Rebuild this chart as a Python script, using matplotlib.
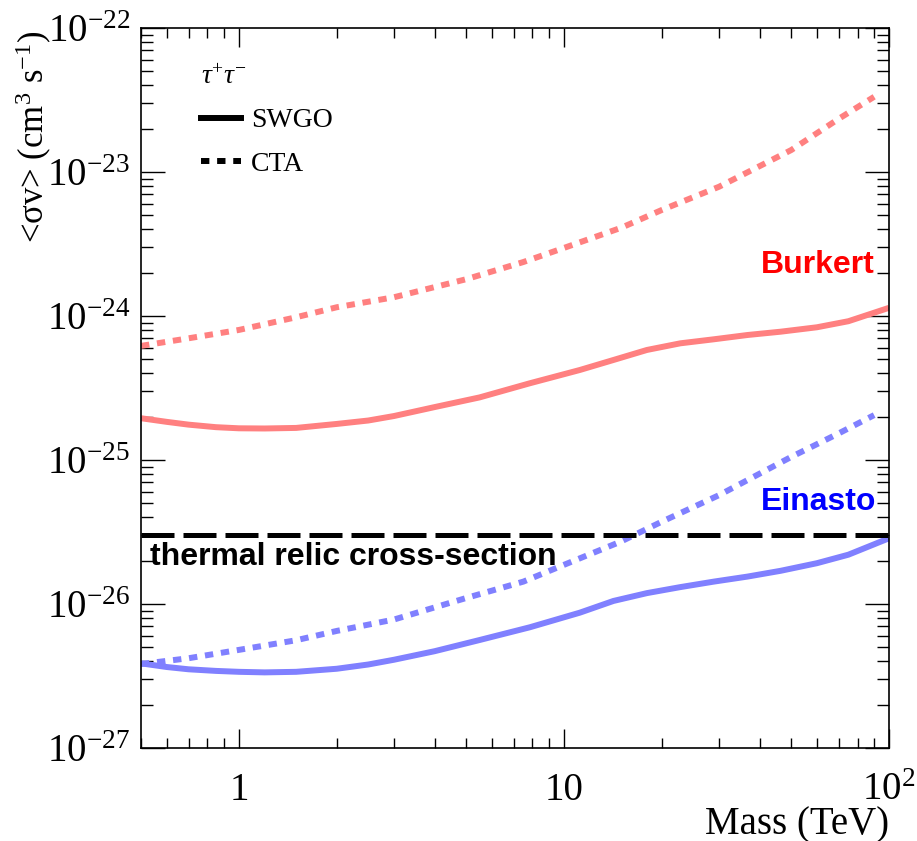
import numpy as np
import matplotlib
matplotlib.use('Agg')
import matplotlib.pyplot as plt
from matplotlib.lines import Line2D
from matplotlib.ticker import FuncFormatter, LogLocator, NullFormatter

# tau+ tau- channel, upper limits
mass_swgo = [0.5, 0.6, 0.7, 0.85, 1.0, 1.2, 1.5, 2.0, 2.5, 3.0, 4.0, 5.5, 7.85, 11.2,
             14.2, 18, 22.8, 28.9, 36.7, 46.4, 60, 75, 100]
burkert_swgo = [1.95e-25, 1.84e-25, 1.76e-25, 1.69e-25, 1.66e-25, 1.655e-25, 1.67e-25, 1.78e-25,
                1.88e-25, 2.02e-25, 2.33e-25, 2.72e-25, 3.41e-25, 4.22e-25, 4.95e-25, 5.81e-25,
                6.46e-25, 6.89e-25, 7.38e-25, 7.78e-25, 8.35e-25, 9.2e-25, 1.14e-24]
einasto_swgo = [3.87e-27, 3.65e-27, 3.52e-27, 3.43e-27, 3.38e-27, 3.35e-27, 3.38e-27, 3.55e-27,
                3.8e-27, 4.1e-27, 4.7e-27, 5.62e-27, 6.89e-27, 8.71e-27, 1.05e-26, 1.19e-26,
                1.31e-26, 1.43e-26, 1.55e-26, 1.70e-26, 1.92e-26, 2.2e-26, 2.86e-26]

mass_cta = [0.5, 0.7, 1.0, 1.5, 2.0, 3.0, 5.0, 7.5, 10, 15, 20, 30, 50, 70, 90]
burkert_cta = [6.2e-25, 7.0e-25, 8.0e-25, 9.8e-25, 1.15e-24, 1.35e-24, 1.8e-24, 2.37e-24,
               2.97e-24, 4.1e-24, 5.45e-24, 7.9e-24, 1.42e-23, 2.34e-23, 3.33e-23]
einasto_cta = [3.83e-27, 4.2e-27, 4.8e-27, 5.6e-27, 6.5e-27, 7.8e-27, 1.1e-26, 1.43e-26,
               1.87e-26, 2.72e-26, 3.73e-26, 5.7e-26, 1.05e-25, 1.53e-25, 2.05e-25]

thermal_relic = 3e-26

plt.rcParams['font.family'] = 'Liberation Serif'
plt.rcParams['mathtext.fontset'] = 'custom'
plt.rcParams['mathtext.rm'] = 'Liberation Serif'
plt.rcParams['mathtext.it'] = 'Liberation Serif:italic'
plt.rcParams['mathtext.bf'] = 'Liberation Serif:bold'

fig = plt.figure(figsize=(9.17, 8.41), dpi=100)
ax = fig.add_axes([0.1538, 0.1106, 0.8157, 0.8561])

red = '#ff8080'
blue = '#8080ff'
lw = 4.3
dots = (0, (1.4, 1.3))

ax.plot(mass_swgo, burkert_swgo, color=red, lw=lw, solid_capstyle='butt')
ax.plot(mass_cta, burkert_cta, color=red, lw=lw, linestyle=dots)
ax.plot(mass_swgo, einasto_swgo, color=blue, lw=lw, solid_capstyle='butt')
ax.plot(mass_cta, einasto_cta, color=blue, lw=lw, linestyle=dots)
ax.axhline(thermal_relic, color='black', lw=3.6, linestyle=(0, (6.6, 1.8)))

ax.set_xscale('log')
ax.set_yscale('log')
ax.set_xlim(0.5, 100)
ax.set_ylim(1e-27, 1e-22)

# ticks, ROOT style: inside, on all four sides
ax.set_xticks([1, 10, 100], labels=['1', '10', r'$10^{2}$'])
ax.xaxis.set_minor_locator(LogLocator(base=10, subs=np.arange(2, 10)))
ax.xaxis.set_minor_formatter(NullFormatter())
ax.yaxis.set_major_locator(LogLocator(base=10, numticks=10))
ax.yaxis.set_minor_locator(LogLocator(base=10, subs=np.arange(2, 10), numticks=20))
ax.yaxis.set_major_formatter(FuncFormatter(lambda v, _: r'$10^{%d}$' % round(np.log10(v))))
ax.yaxis.set_minor_formatter(NullFormatter())

ax.tick_params(axis='both', which='both', direction='in', top=True, right=True, width=1)
ax.tick_params(axis='x', which='major', length=13.7, labelsize=28, pad=17)
ax.tick_params(axis='x', which='minor', length=7.2)
ax.tick_params(axis='y', which='major', length=17.3, labelsize=28, pad=8)
ax.tick_params(axis='y', which='minor', length=8.6)
for s in ax.spines.values():
    s.set_linewidth(1.2)

ax.set_xlabel('Mass (TeV)', fontsize=28, ha='right', va='baseline')
ax.xaxis.set_label_coords(1.0, -0.1205)
ax.set_ylabel('<σv> (cm$^{3}$ s$^{-1}$)', fontsize=25, ha='right', va='center')
ax.yaxis.set_label_coords(-0.1430, 0.997)

bold_sans = dict(family='Liberation Sans', fontweight='bold', fontsize=23, transform=ax.transAxes)
ax.text(0.981, 0.660, 'Burkert', color='red', ha='right', va='baseline', **bold_sans)
ax.text(0.983, 0.331, 'Einasto', color='blue', ha='right', va='baseline', **bold_sans)
ax.text(0.012, 0.254, 'thermal relic cross-section', color='black', ha='left', va='baseline', **bold_sans)

handles = [Line2D([], [], color='black', lw=lw),
           Line2D([], [], color='black', lw=lw, linestyle=dots)]
ax.legend(handles, ['SWGO', 'CTA'], title=r'$\tau^{+}\tau^{-}$', loc='upper left',
          bbox_to_anchor=(0.080, 0.949), frameon=False, fontsize=20, title_fontsize=20,
          handlelength=1.45, handletextpad=0.36, labelspacing=0.65, borderpad=0,
          borderaxespad=0, alignment='left')

fig.savefig('out.png', dpi=100)
